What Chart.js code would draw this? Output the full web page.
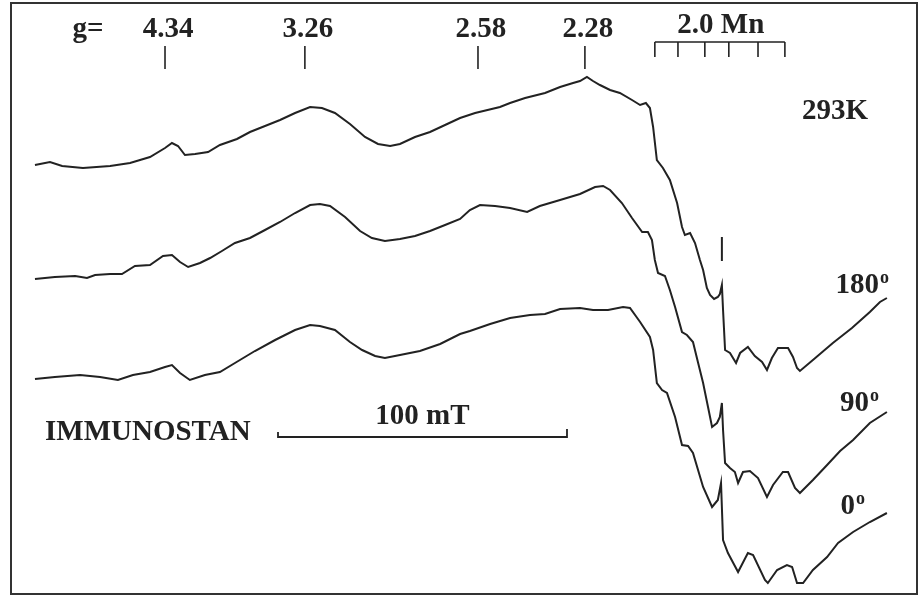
<!DOCTYPE html>
<html>
<head>
<meta charset="utf-8">
<script src="https://cdn.jsdelivr.net/npm/chart.js@4/dist/chart.umd.min.js"></script>
<style>
  html, body { margin: 0; padding: 0; background: #fff; }
  .wrap { width: 921px; height: 597px; position: relative; }
</style>
</head>
<body>
<div class="wrap"><canvas id="epr"></canvas></div>
<script>
// magnetic field (mT) and derivative signal (a.u.)
const field180 = [100.1,105.3,109.5,116.7,126.1,133.0,139.9,145.1,147.5,149.6,152.0,155.5,160.0,164.1,170.0,174.5,179.7,184.9,190.1,195.3,199.4,203.9,209.1,214.3,218.8,223.0,226.4,231.6,236.8,242.0,247.2,252.4,261.0,264.5,269.7,276.6,281.8,286.3,288.7,291.1,293.2,295.6,299.1,302.5,306.7,309.5,311.5,312.9,314.0,315.3,317.4,319.8,322.3,324.0,325.0,326.8,328.5,330.2,331.3,332.6,333.7,335.1,336.4,337.1,337.8,338.2,338.9,340.6,342.7,344.1,346.8,349.2,351.7,353.4,355.1,357.2,360.7,362.4,363.8,364.8,369.3,376.2,382.8,389.0,392.5,394.9];
const signal180 = [0,3,-1,-3,-1,2,8,17,22,19,10,11,13,20,26,33,39,45,52,58,57,52,41,28,21,19,21,28,33,40,47,52,58,62,67,72,78,82,84,88,84,80,75,72,65,60,62,57,38,5,-3,-15,-38,-62,-70,-68,-78,-95,-105,-123,-130,-134,-132,-129,-120,-145,-185,-188,-198,-188,-182,-191,-197,-205,-193,-183,-183,-192,-203,-206,-195,-178,-163,-147,-137,-133];

const field90 = [100.1,107.0,114.0,118.1,120.9,126.1,130.2,134.7,139.9,144.4,147.5,150.3,153.1,157.2,160.7,164.8,169.3,174.5,179.7,184.9,190.1,195.3,198.7,202.2,207.4,212.6,216.7,221.2,226.4,231.6,236.8,242.0,247.2,250.6,254.1,259.3,264.5,270.4,274.8,281.8,288.7,293.9,296.7,299.1,303.2,306.7,310.2,312.2,313.6,314.6,315.7,318.1,319.8,321.6,324.0,325.7,327.8,329.5,331.3,333.0,334.4,336.1,337.1,337.8,338.2,338.9,340.6,342.3,343.4,345.1,347.5,350.3,353.4,355.5,358.9,360.7,363.1,364.8,369.3,374.2,378.7,383.2,389.0,394.9];
const signal90 = [0,2,3,1,4,5,5,13,14,23,24,17,12,16,21,28,36,41,49,57,66,74,75,73,62,48,41,38,40,43,48,54,60,69,74,73,71,67,73,79,85,92,93,89,76,61,47,47,39,19,6,3,-11,-28,-53,-56,-63,-83,-104,-128,-148,-144,-138,-124,-151,-184,-189,-193,-204,-193,-192,-199,-218,-206,-193,-193,-209,-214,-201,-186,-172,-161,-144,-133];

const field0 = [100.1,107.0,115.7,122.6,128.8,134.0,139.9,145.1,147.5,150.3,153.7,158.9,164.1,169.3,176.2,183.2,190.1,195.3,198.7,203.9,209.1,213.3,217.8,221.2,226.4,233.3,240.3,247.2,250.6,257.6,264.5,271.4,276.6,281.8,288.7,293.2,298.4,303.6,306.0,309.5,312.9,314.0,315.3,317.1,318.8,321.6,324.0,326.1,327.8,331.3,334.4,336.4,337.5,338.2,339.9,343.4,346.8,348.6,352.7,353.7,356.9,360.3,362.1,363.8,365.9,369.3,374.2,378.0,383.2,389.0,394.9];
const signal0 = [0,2,4,2,-1,4,7,12,14,6,-1,4,7,16,28,39,49,54,53,49,37,29,23,21,24,28,35,45,48,55,61,64,65,70,71,69,69,72,71,57,42,29,-4,-11,-14,-38,-66,-67,-74,-108,-128,-121,-104,-161,-174,-193,-174,-176,-201,-204,-191,-186,-188,-204,-204,-191,-178,-164,-153,-143,-134];

const traceLabels = ['180', '90', '0'];
const traceOffsets = [0, -114, -214];   // vertical stacking of the spectra

// g-value markers and Mn2+ reference sextet, in mT
const gLabels = ['4.34', '3.26', '2.58', '2.28'];
const gFields = [145.1, 193.5, 253.4, 290.4];
const mnFields = [314.6, 322.6, 331.9, 340.2, 350.3, 359.6];
const mnMarkField = 337.8;
const scaleBarFrom = 184.2;   // 100 mT bar
const scaleBarTo = 284.2;

const ink = '#222';
const serif = '"Liberation Serif", "DejaVu Serif", serif';
const bigFont = 'bold 29px ' + serif;

function pairs(xs, ys, off) {
  return xs.map((x, i) => ({ x: x, y: ys[i] + off }));
}

const spectra = [
  pairs(field180, signal180, traceOffsets[0]),
  pairs(field90, signal90, traceOffsets[1]),
  pairs(field0, signal0, traceOffsets[2]),
];

// frame, labels and markers drawn on top of the plot
const decorations = {
  id: 'decorations',
  afterDraw(chart) {
    const ctx = chart.ctx;
    const xs = chart.scales.x;
    ctx.save();
    ctx.strokeStyle = '#333';
    ctx.lineWidth = 2;
    ctx.strokeRect(11, 3, 906, 591);

    ctx.fillStyle = ink;
    ctx.strokeStyle = ink;
    ctx.lineWidth = 1.6;
    ctx.font = bigFont;
    ctx.textBaseline = 'alphabetic';
    ctx.textAlign = 'center';

    ctx.fillText('g=', 88, 37);
    gFields.forEach((f, i) => {
      const px = xs.getPixelForValue(f);
      ctx.fillText(gLabels[i], px + 3, 37);
      ctx.beginPath();
      ctx.moveTo(px, 46);
      ctx.lineTo(px, 69);
      ctx.stroke();
    });

    // Mn bracket
    const m0 = xs.getPixelForValue(mnFields[0]);
    const m1 = xs.getPixelForValue(mnFields[mnFields.length - 1]);
    ctx.fillText('2.0 Mn', (m0 + m1) / 2 + 1, 33);
    ctx.beginPath();
    ctx.moveTo(m0, 42);
    ctx.lineTo(m1, 42);
    mnFields.forEach(f => {
      const px = xs.getPixelForValue(f);
      ctx.moveTo(px, 42);
      ctx.lineTo(px, 57);
    });
    ctx.stroke();

    // marker of the Mn line on the top spectrum
    const mk = xs.getPixelForValue(mnMarkField);
    ctx.lineWidth = 2;
    ctx.beginPath();
    ctx.moveTo(mk, 237);
    ctx.lineTo(mk, 261);
    ctx.stroke();

    ctx.fillText('293K', 835, 119);

    // angle labels at the right end of each trace
    const labelY = [293, 411, 514];
    const labelX = [879, 869, 855];
    traceLabels.forEach((t, i) => {
      ctx.font = bigFont;
      ctx.textAlign = 'right';
      ctx.fillText(t, labelX[i], labelY[i]);
      ctx.font = 'bold 18px ' + serif;
      ctx.textAlign = 'left';
      ctx.fillText('o', labelX[i] + 1, labelY[i] - 10);
    });

    ctx.font = bigFont;
    ctx.textAlign = 'left';
    ctx.fillText('IMMUNOSTAN', 45, 440);

    // 100 mT scale bar
    const b0 = xs.getPixelForValue(scaleBarFrom);
    const b1 = xs.getPixelForValue(scaleBarTo);
    ctx.textAlign = 'center';
    ctx.fillText('100 mT', (b0 + b1) / 2, 424);
    ctx.lineWidth = 1.8;
    ctx.beginPath();
    ctx.moveTo(b0, 432);
    ctx.lineTo(b0, 437);
    ctx.lineTo(b1, 437);
    ctx.lineTo(b1, 429);
    ctx.stroke();
    ctx.restore();
  }
};

new Chart(document.getElementById('epr'), {
  type: 'scatter',
  data: {
    datasets: spectra.map((pts, i) => ({
      label: traceLabels[i],
      data: pts,
      showLine: true,
      borderColor: ink,
      borderWidth: 2,
      pointRadius: 0,
      tension: 0,
    })),
  },
  options: {
    responsive: true,
    maintainAspectRatio: false,
    animation: false,
    layout: { padding: 0 },
    plugins: { legend: { display: false }, tooltip: { enabled: false } },
    scales: {
      x: { type: 'linear', min: 88, max: 406.7, display: false },
      y: { type: 'linear', min: -432, max: 165, display: false },
    },
  },
  plugins: [decorations],
});
</script>
</body>
</html>
